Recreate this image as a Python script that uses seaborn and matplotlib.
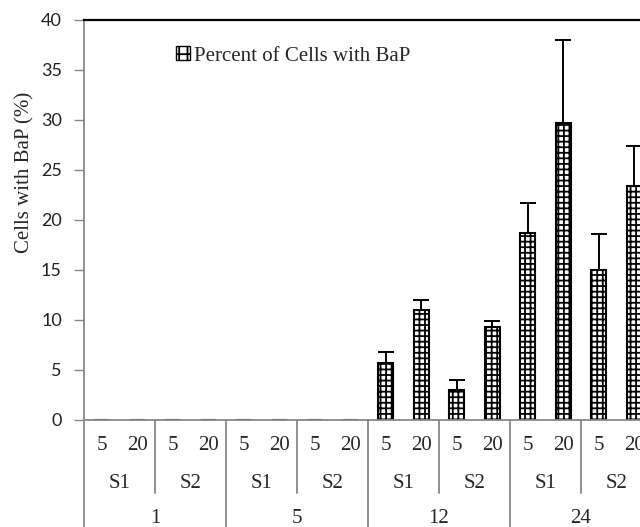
import matplotlib
matplotlib.use("Agg")
import matplotlib.pyplot as plt
import matplotlib.patches as mpatches
import matplotlib.transforms as mtransforms
import seaborn as sns
import pandas as pd
import numpy as np

# ---- data ----
times = ["1", "5", "12", "24"]
strains = ["S1", "S2"]
concs = ["5", "20"]
values = [0, 0, 0, 0,
          0, 0, 0, 0,
          5.7, 11.0, 3.0, 9.3,
          18.7, 29.7, 15.0, 23.4]
errors = [0, 0, 0, 0,
          0, 0, 0, 0,
          1.1, 1.0, 1.0, 0.6,
          3.0, 8.3, 3.6, 4.0]
y_ticks = [0, 5, 10, 15, 20, 25, 30, 35, 40]
legend_label = "Percent of Cells with BaP"
y_label = "Cells with BaP (%)"

rows = []
for t in times:
    for s in strains:
        for c in concs:
            rows.append((t, s, c))
df = pd.DataFrame(rows, columns=["time", "strain", "conc"])
df["key"] = df["time"] + "|" + df["strain"] + "|" + df["conc"]
df["value"] = values
df["err"] = errors

sns.set_style("white")
serif = ["Liberation Serif", "DejaVu Serif"]
FS = 15

fig = plt.figure(figsize=(6.4, 5.27), dpi=100)
ax = fig.add_axes([84/640, 107/527, 568/640, 400/527])

plt.rcParams["hatch.linewidth"] = 1.3
HATCH = "+++"
sns.barplot(data=df, x="key", y="value", ax=ax, color="white",
            edgecolor="black", linewidth=1.5, width=0.42, hatch=HATCH,
            errorbar=None, order=list(df["key"]))

xs = np.arange(len(df))
mask = df["value"].values > 0
ax.errorbar(xs[mask], df["value"].values[mask],
            yerr=[np.zeros(mask.sum()), df["err"].values[mask]],
            fmt="none", ecolor="black", elinewidth=1.4, capsize=6, capthick=1.4)

ax.set_xlim(-0.5, len(df) - 0.5)
ax.set_ylim(0, 40)
ax.set_yticks(y_ticks)
ax.set_yticklabels([str(v) for v in y_ticks], fontsize=13, family="Lato", color="#222222")
ax.tick_params(axis="y", length=7, width=1, color="#888888", direction="out", left=True, pad=9)
ax.set_xticks([])
ax.set_xlabel("")
ax.set_ylabel("")

for side in ["left", "bottom"]:
    ax.spines[side].set_color("#888888")
    ax.spines[side].set_linewidth(1.3)
ax.spines["top"].set_visible(True)
ax.spines["top"].set_color("black")
ax.spines["top"].set_linewidth(1.6)
ax.spines["right"].set_visible(False)

trans = mtransforms.blended_transform_factory(ax.transData, ax.transAxes)

# row 1: concentrations
for i, c in enumerate(df["conc"]):
    ax.text(i, -0.0625, c, transform=trans, ha="center", va="center",
            fontsize=FS, family=serif, clip_on=False)
# row 2: strains
for j in range(len(times) * len(strains)):
    ax.text(2 * j + 0.5, -0.1575, df["strain"].iloc[2 * j], transform=trans,
            ha="center", va="center", fontsize=FS, family=serif, clip_on=False)
# row 3: times
for k, t in enumerate(times):
    ax.text(4 * k + 1.5, -0.247, t, transform=trans, ha="center", va="center",
            fontsize=FS, family=serif, clip_on=False)

# separators
for j in range(len(times) * len(strains)):
    xpos = 2 * j + 1.5
    if (j + 1) % 2 == 1:
        ax.plot([xpos, xpos], [0, -0.183], transform=trans, color="#888888",
                lw=1.3, clip_on=False)
for k in range(len(times) + 1):
    xpos = 4 * k - 0.5
    ax.plot([xpos, xpos], [0, -0.30], transform=trans, color="#888888",
            lw=1.3, clip_on=False)

# y label
ax.text(-0.105, 0.62, y_label, transform=ax.transAxes, rotation=90,
        ha="center", va="center", fontsize=FS, family=serif)

# legend
handle = mpatches.Patch(facecolor="white", edgecolor="black", hatch="++",
                        linewidth=1.0, label=legend_label)
leg = ax.legend(handles=[handle], loc="upper left", bbox_to_anchor=(0.148, 0.955),
                frameon=False, prop={"family": serif, "size": FS},
                handlelength=0.65, handleheight=0.65, handletextpad=0.2,
                borderaxespad=0)

fig.savefig("out.png", dpi=100)
